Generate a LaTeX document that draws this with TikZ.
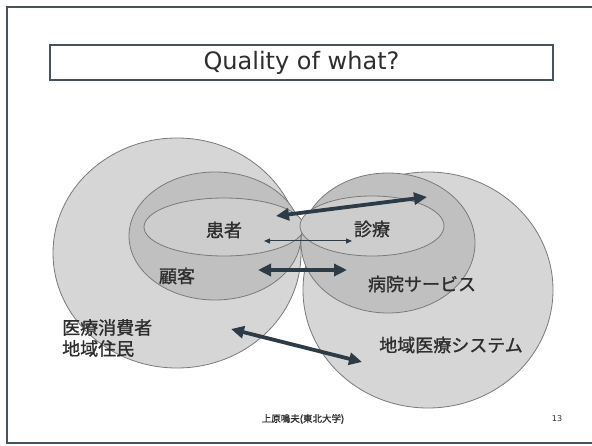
\documentclass[tikz,border=0pt]{standalone}
\usepackage{fontspec}
\setmainfont{DejaVu Sans}
\newfontfamily\cjk[FakeBold=1.2]{Noto Sans CJK JP}
\usetikzlibrary{arrows.meta}
\definecolor{framec}{HTML}{46535B}
\definecolor{bigfill}{HTML}{D6D6D6}
\definecolor{midfill}{HTML}{C0C0C0}
\definecolor{innfill}{HTML}{CDCDCD}
\definecolor{outl}{HTML}{7A7A7A}
\definecolor{txtc}{HTML}{2E2E2E}
\definecolor{arrc}{HTML}{2D3B46}
\tikzset{
  frameline/.style={draw=framec, line width=2.2pt},
  titlebox/.style={draw=framec, line width=2.4pt, fill=white, minimum width=503pt, minimum height=35pt, inner sep=0pt, font=\fontsize{24}{27}\selectfont, text=txtc},
  bigc/.style={fill=bigfill, draw=outl, line width=0.8pt},
  midc/.style={fill=midfill, draw=outl, line width=0.8pt},
  innc/.style={fill=innfill, draw=outl, line width=0.8pt},
  lab/.style={font=\cjk\fontsize{18}{21}\selectfont, text=txtc, inner sep=0pt},
  thickarr/.style={draw=arrc, line width=3.8pt, {Triangle[length=13pt,width=12pt]}-{Triangle[length=13pt,width=12pt]}},
  thinarr/.style={draw=arrc, line width=1pt, {Triangle[length=6pt,width=5pt]}-{Triangle[length=6pt,width=5pt]}},
  foot/.style={font=\cjk\fontsize{9.5}{11}\selectfont, text=txtc, inner sep=0pt}
}
\begin{document}
\begin{tikzpicture}[x=1pt,y=-1pt]
\useasboundingbox (0,0) rectangle (592,446);
\fill[white] (0,0) rectangle (592,446);
\draw[frameline] (600,7) -- (7,7) -- (7,443) -- (600,443);
\node[titlebox] (title) at (301.5,62.5) {Quality of what?};
% circles
\draw[bigc] (177,253) ellipse [x radius=124, y radius=115];
\draw[bigc] (428,290) ellipse [x radius=125, y radius=118];
\draw[midc] (215,236) ellipse [x radius=86, y radius=64];
\draw[midc] (388,243) ellipse [x radius=87, y radius=70];
\draw[innc] (224,227) ellipse [x radius=80, y radius=29];
\draw[innc] (372,226) ellipse [x radius=72, y radius=30];
% labels
\node[lab] (kanja) at (224,230) {患者};
\node[lab] (kokyaku) at (177,276) {顧客};
\node[lab, align=left, anchor=west] (shohisha) at (62,338) {医療消費者\\地域住民};
\node[lab] (shinryo) at (372,229) {診療};
\node[lab] (byoin) at (422,284) {病院サービス};
\node[lab] (chiiki) at (451,345) {地域医療システム};
% arrows
\coordinate (a1l) at (276,216); \coordinate (a1r) at (427,197);
\coordinate (a2l) at (264,241); \coordinate (a2r) at (352,241);
\coordinate (a3l) at (258,270); \coordinate (a3r) at (347,270);
\coordinate (a4l) at (231,329); \coordinate (a4r) at (362,362);
\draw[thickarr] (a1l) -- (a1r);
\draw[thinarr] (a2l) -- (a2r);
\draw[thickarr] (a3l) -- (a3r);
\draw[thickarr] (a4l) -- (a4r);
% footer
\node[foot] (author) at (303,419) {上原鳴夫(東北大学)};
\node[foot, font=\fontsize{8}{10}\selectfont] (page) at (557,419) {13};
\end{tikzpicture}
\end{document}
